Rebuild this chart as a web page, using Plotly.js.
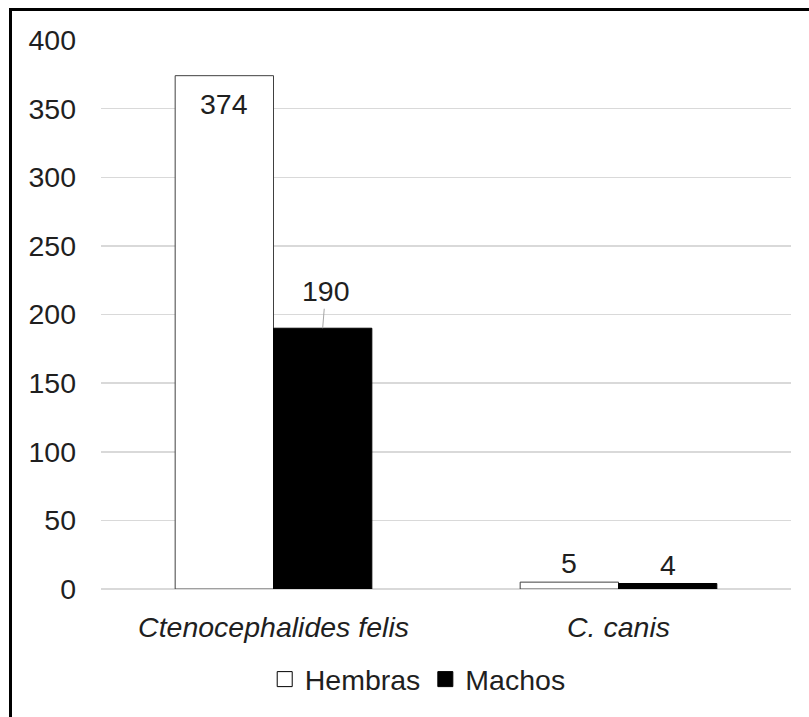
<!DOCTYPE html>
<html><head><meta charset="utf-8">
<script src="https://cdn.plot.ly/plotly-3.0.1.min.js"></script>
<style>
html,body{margin:0;padding:0;background:#fff;}
#wrap{position:relative;width:809px;height:717px;overflow:hidden}
#chart{width:809px;height:717px}
#frame{position:absolute;left:9px;top:8px;width:830px;height:740px;border-left:3px solid #000;border-top:3px solid #000;pointer-events:none}
</style>
</head><body><div id="wrap"><div id="chart"></div><div id="frame"></div></div>
<script>
const categories = ['<i>Ctenocephalides felis</i>', '<i>C. canis</i>'];
const hembras = [374, 5];
const machos = [190, 4];
const seriesNames = ['Hembras', 'Machos'];
const yTicks = [0, 50, 100, 150, 200, 250, 300, 350, 400];

const FONT = '"Liberation Sans", Arial, sans-serif';
const FS = 28.5;
const TXT = '#1f1f1f';
const bargap = 0.43;
const fills = ['#ffffff', '#000000'];
const lines = ['#404040', '#000000'];

const traces = [];
[hembras, machos].forEach((vals, s) => {
  traces.push({type: 'bar', name: seriesNames[s], x: categories, y: vals, showlegend: false,
    marker: {color: fills[s], line: {color: lines[s], width: 1}}, hoverinfo: 'none'});
});
// legend entries with larger square symbols
seriesNames.forEach((n, s) => {
  traces.push({type: 'scatter', mode: 'markers', name: n, x: [null], y: [null], showlegend: true,
    marker: {symbol: 'square', size: 15, color: fills[s], line: {color: '#000000', width: 1}}, hoverinfo: 'none'});
});

const off = (1 - bargap) / 4;
const annotations = [];
[hembras, machos].forEach((vals, s) => {
  vals.forEach((v, i) => {
    const a = {x: i + (s === 0 ? -off : off), y: v, xref: 'x', yref: 'y',
      text: String(v), font: {family: FONT, size: FS, color: TXT}, showarrow: false,
      xanchor: 'center', yanchor: 'middle'};
    if (s === 0 && i === 0) { a.yshift = -28; }
    else if (s === 1 && i === 0) {
      a.showarrow = true; a.arrowhead = 0; a.arrowwidth = 1; a.arrowcolor = '#a6a6a6';
      a.ax = 3; a.ay = -37; a.standoff = 0;
    } else { a.yshift = 19; }
    annotations.push(a);
  });
});

const layout = {
  width: 809, height: 717,
  margin: {l: 100.5, r: 18, t: 40, b: 126},
  paper_bgcolor: '#fff', plot_bgcolor: '#fff',
  font: {family: FONT, size: FS, color: TXT},
  barmode: 'group', bargap: bargap, bargroupgap: 0,
  showlegend: true,
  legend: {orientation: 'h', x: 0.459, xanchor: 'center', y: -0.165, yanchor: 'middle',
    font: {family: FONT, size: FS, color: TXT}, traceorder: 'normal', itemwidth: 30},
  xaxis: {type: 'category', showgrid: false, showline: false, zeroline: false,
    ticks: '', ticklabelstandoff: 18, tickfont: {family: FONT, size: FS, color: TXT}},
  yaxis: {range: [0, 400], tickvals: yTicks, ticktext: yTicks.map(String),
    showgrid: true, gridcolor: '#d9d9d9', gridwidth: 1.5, zeroline: true, zerolinecolor: '#d9d9d9', zerolinewidth: 1.5,
    showline: false, ticks: '', ticklabelstandoff: 24, tickfont: {family: FONT, size: FS, color: TXT}},
  annotations: annotations
};

Plotly.newPlot('chart', traces, layout, {staticPlot: true, displayModeBar: false});
</script>
</body></html>
